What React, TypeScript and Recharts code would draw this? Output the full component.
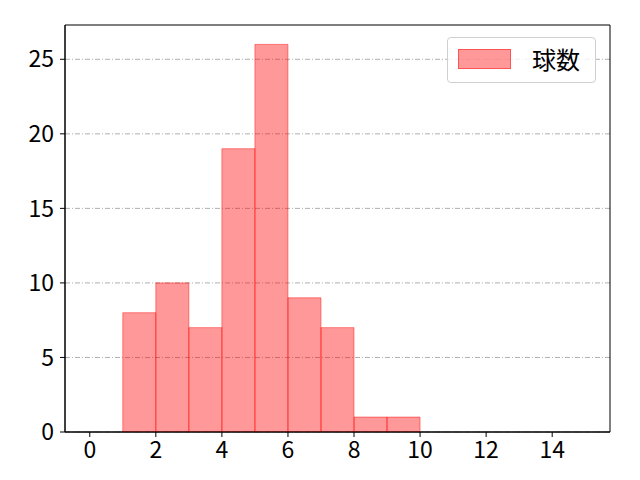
import React from "react";
import { ComposedChart, Bar, XAxis, YAxis, CartesianGrid, ReferenceArea } from "recharts";

const binStarts = [0, 1, 2, 3, 4, 5, 6, 7, 8, 9, 10, 11, 12, 13, 14];
const counts = [0, 8, 10, 7, 19, 26, 9, 7, 1, 1, 0, 0, 0, 0, 0];
const xTicks = [0, 2, 4, 6, 8, 10, 12, 14];
const yTicks = [0, 5, 10, 15, 20, 25];
const seriesName = "球数";
const xDomain = [-0.75, 15.75];
const yDomain = [0, 27.3];

const data = binStarts.map((s, i) => ({ x: s + 0.5, count: counts[i] }));

const FONT = "'Noto Sans CJK JP', 'DejaVu Sans', sans-serif";

const LegendBox = () => (
  <div
    style={{
      position: "absolute",
      left: 447,
      top: 37,
      width: 149,
      height: 46,
      border: "1px solid #d0d0d0",
      borderRadius: 4,
      background: "rgba(255,255,255,0.8)",
      boxSizing: "border-box",
      fontFamily: FONT,
    }}
  >
    <div
      style={{
        position: "absolute",
        left: 10,
        top: 11,
        width: 53,
        height: 20,
        background: "rgba(255,0,0,0.4)",
        border: "1px solid rgba(255,0,0,0.45)",
        boxSizing: "border-box",
      }}
    />
    <div
      style={{
        position: "absolute",
        left: 84,
        top: 3,
        fontSize: 24,
        lineHeight: "36px",
        color: "#000",
        whiteSpace: "nowrap",
      }}
    >
      {seriesName}
    </div>
  </div>
);

export default function App() {
  return (
    <div style={{ position: "absolute", left: 0, top: 0, width: 640, height: 480, background: "#fff" }}>
      <ComposedChart
        width={640}
        height={480}
        data={data}
        margin={{ top: 25, right: 30, bottom: 0, left: 0 }}
        barCategoryGap={0}
        barGap={0}
      >
        <CartesianGrid
          vertical={false}
          stroke="#b0b0b0"
          strokeDasharray="5 2 1 2"
          horizontalValues={yTicks}
        />
        <XAxis
          dataKey="x"
          type="number"
          domain={xDomain}
          ticks={xTicks}
          allowDataOverflow
          height={48}
          stroke="#000"
          tickSize={5}
          tickMargin={5}
          tick={{ fill: "#000", fontSize: 23, fontFamily: FONT }}
          interval={0}
        />
        <YAxis
          type="number"
          domain={yDomain}
          ticks={yTicks}
          allowDataOverflow
          width={65}
          stroke="#000"
          tickSize={5}
          tickMargin={6}
          tick={{ fill: "#000", fontSize: 23, fontFamily: FONT }}
          interval={0}
        />
        <Bar
          dataKey="count"
          name={seriesName}
          fill="#ff0000"
          fillOpacity={0.4}
          stroke="#ff0000"
          strokeOpacity={0.45}
          strokeWidth={1}
          isAnimationActive={false}
        />
        <ReferenceArea
          x1={xDomain[0]}
          x2={xDomain[1]}
          y1={yDomain[0]}
          y2={yDomain[1]}
          fill="none"
          fillOpacity={0}
          stroke="#000"
          strokeWidth={1}
          ifOverflow="visible"
        />
      </ComposedChart>
      <LegendBox />
    </div>
  );
}
